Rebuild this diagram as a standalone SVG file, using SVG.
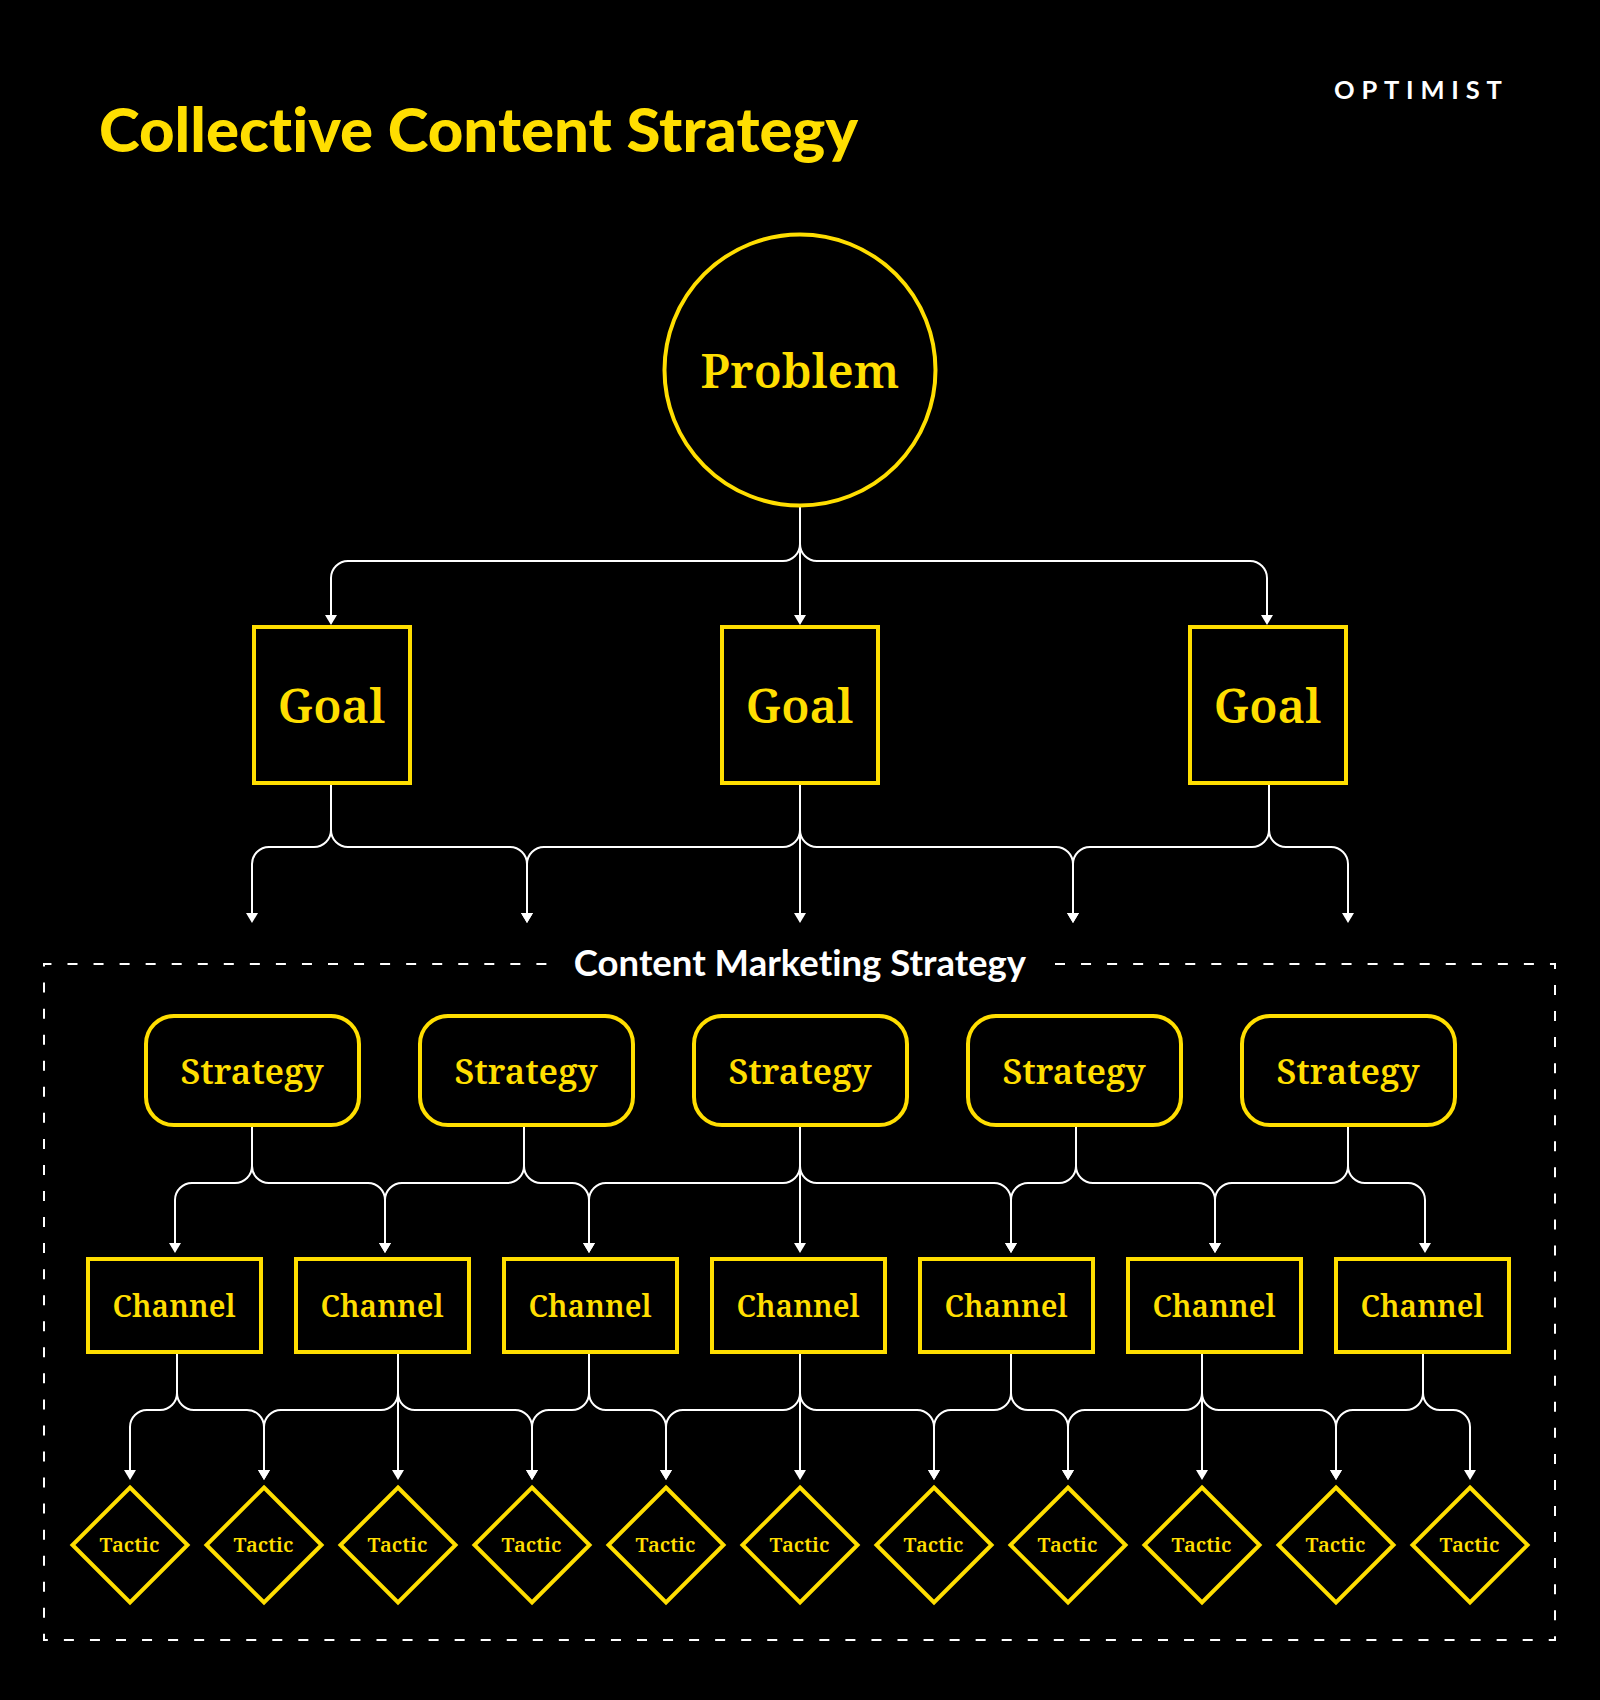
<svg xmlns="http://www.w3.org/2000/svg" width="1600" height="1700" viewBox="0 0 1600 1700">
<defs>
<style>
.n{fill:#000;stroke:#FFDE00;stroke-width:4}
.s{font-family:"Noto Serif","Droid Serif","DejaVu Serif Condensed",serif;font-weight:600;fill:#FFDE00;text-anchor:middle}
.c path{fill:none;stroke:#fff;stroke-width:2;marker-end:url(#a)}
.l{font-family:Lato,sans-serif;font-variant-ligatures:none}
</style>
<marker id="a" markerUnits="userSpaceOnUse" markerWidth="14" markerHeight="14" refX="7" refY="6" orient="auto"><path d="M0 0L10 6L0 12z" fill="#fff"/></marker>
</defs>
<rect width="1600" height="1700" fill="#000"/>
<text id="title" class="l" x="99" y="152" font-size="61.700" font-weight="900" fill="#FFDE00">Collective Content Strategy</text>
<text id="brand" class="l" x="1334" y="99" font-weight="700" font-size="25.500" letter-spacing="6.800" fill="#fff">OPTIMIST</text>
<path id="frame" d="M1055 964H1555V1640H44V964H547" fill="none" stroke="#fff" stroke-width="2" stroke-dasharray="10 16.050"/>
<text id="frame-label" class="l" x="800" y="976" font-size="36.500" font-weight="700" fill="#fff" text-anchor="middle">Content Marketing Strategy</text>
<g id="connectors" class="c">
<path d="M800 506V544A17 17 0 0 1 783 561H348A17 17 0 0 0 331 578V622"/>
<path d="M800 506V622"/>
<path d="M800 506V544A17 17 0 0 0 817 561H1250A17 17 0 0 1 1267 578V622"/>
<path d="M331 785V830A17 17 0 0 1 314 847H269A17 17 0 0 0 252 864V920"/>
<path d="M331 785V830A17 17 0 0 0 348 847H510A17 17 0 0 1 527 864V920"/>
<path d="M800 785V830A17 17 0 0 1 783 847H544A17 17 0 0 0 527 864V920"/>
<path d="M800 785V920"/>
<path d="M800 785V830A17 17 0 0 0 817 847H1056A17 17 0 0 1 1073 864V920"/>
<path d="M1269 785V830A17 17 0 0 1 1252 847H1090A17 17 0 0 0 1073 864V920"/>
<path d="M1269 785V830A17 17 0 0 0 1286 847H1331A17 17 0 0 1 1348 864V920"/>
<path d="M252 1127V1166A17 17 0 0 1 235 1183H192A17 17 0 0 0 175 1200V1250"/>
<path d="M252 1127V1166A17 17 0 0 0 269 1183H368A17 17 0 0 1 385 1200V1250"/>
<path d="M524 1127V1166A17 17 0 0 1 507 1183H402A17 17 0 0 0 385 1200V1250"/>
<path d="M524 1127V1166A17 17 0 0 0 541 1183H572A17 17 0 0 1 589 1200V1250"/>
<path d="M800 1127V1166A17 17 0 0 1 783 1183H606A17 17 0 0 0 589 1200V1250"/>
<path d="M800 1127V1250"/>
<path d="M800 1127V1166A17 17 0 0 0 817 1183H994A17 17 0 0 1 1011 1200V1250"/>
<path d="M1076 1127V1166A17 17 0 0 1 1059 1183H1028A17 17 0 0 0 1011 1200V1250"/>
<path d="M1076 1127V1166A17 17 0 0 0 1093 1183H1198A17 17 0 0 1 1215 1200V1250"/>
<path d="M1348 1127V1166A17 17 0 0 1 1331 1183H1232A17 17 0 0 0 1215 1200V1250"/>
<path d="M1348 1127V1166A17 17 0 0 0 1365 1183H1408A17 17 0 0 1 1425 1200V1250"/>
<path d="M177 1353V1393A17 17 0 0 1 160 1410H147A17 17 0 0 0 130 1427V1477"/>
<path d="M177 1353V1393A17 17 0 0 0 194 1410H247A17 17 0 0 1 264 1427V1477"/>
<path d="M398 1353V1393A17 17 0 0 1 381 1410H281A17 17 0 0 0 264 1427V1477"/>
<path d="M398 1353V1477"/>
<path d="M398 1353V1393A17 17 0 0 0 415 1410H515A17 17 0 0 1 532 1427V1477"/>
<path d="M589 1353V1393A17 17 0 0 1 572 1410H549A17 17 0 0 0 532 1427V1477"/>
<path d="M589 1353V1393A17 17 0 0 0 606 1410H649A17 17 0 0 1 666 1427V1477"/>
<path d="M800 1353V1393A17 17 0 0 1 783 1410H683A17 17 0 0 0 666 1427V1477"/>
<path d="M800 1353V1477"/>
<path d="M800 1353V1393A17 17 0 0 0 817 1410H917A17 17 0 0 1 934 1427V1477"/>
<path d="M1011 1353V1393A17 17 0 0 1 994 1410H951A17 17 0 0 0 934 1427V1477"/>
<path d="M1011 1353V1393A17 17 0 0 0 1028 1410H1051A17 17 0 0 1 1068 1427V1477"/>
<path d="M1202 1353V1393A17 17 0 0 1 1185 1410H1085A17 17 0 0 0 1068 1427V1477"/>
<path d="M1202 1353V1477"/>
<path d="M1202 1353V1393A17 17 0 0 0 1219 1410H1319A17 17 0 0 1 1336 1427V1477"/>
<path d="M1423 1353V1393A17 17 0 0 1 1406 1410H1353A17 17 0 0 0 1336 1427V1477"/>
<path d="M1423 1353V1393A17 17 0 0 0 1440 1410H1453A17 17 0 0 1 1470 1427V1477"/>
</g>
<g id="problem"><circle class="n" cx="800" cy="370" r="135.500"/><text class="s" x="800" y="388" font-size="47">Problem</text></g>
<g id="goal-1"><rect class="n" x="254" y="627" width="156" height="156"/><text class="s" x="331.500" y="723" font-size="47.300">Goal</text></g>
<g id="goal-2"><rect class="n" x="722" y="627" width="156" height="156"/><text class="s" x="799.500" y="723" font-size="47.300">Goal</text></g>
<g id="goal-3"><rect class="n" x="1190" y="627" width="156" height="156"/><text class="s" x="1267.500" y="723" font-size="47.300">Goal</text></g>
<g id="strategy-1"><rect class="n" x="146" y="1016" width="213" height="109" rx="28"/><text class="s" x="252" y="1084" font-size="35">Strategy</text></g>
<g id="strategy-2"><rect class="n" x="420" y="1016" width="213" height="109" rx="28"/><text class="s" x="526" y="1084" font-size="35">Strategy</text></g>
<g id="strategy-3"><rect class="n" x="694" y="1016" width="213" height="109" rx="28"/><text class="s" x="800" y="1084" font-size="35">Strategy</text></g>
<g id="strategy-4"><rect class="n" x="968" y="1016" width="213" height="109" rx="28"/><text class="s" x="1074" y="1084" font-size="35">Strategy</text></g>
<g id="strategy-5"><rect class="n" x="1242" y="1016" width="213" height="109" rx="28"/><text class="s" x="1348" y="1084" font-size="35">Strategy</text></g>
<g id="channel-1"><rect class="n" x="88" y="1259" width="173" height="93"/><text class="s" x="174" y="1316.500" font-size="30">Channel</text></g>
<g id="channel-2"><rect class="n" x="296" y="1259" width="173" height="93"/><text class="s" x="382" y="1316.500" font-size="30">Channel</text></g>
<g id="channel-3"><rect class="n" x="504" y="1259" width="173" height="93"/><text class="s" x="590" y="1316.500" font-size="30">Channel</text></g>
<g id="channel-4"><rect class="n" x="712" y="1259" width="173" height="93"/><text class="s" x="798" y="1316.500" font-size="30">Channel</text></g>
<g id="channel-5"><rect class="n" x="920" y="1259" width="173" height="93"/><text class="s" x="1006" y="1316.500" font-size="30">Channel</text></g>
<g id="channel-6"><rect class="n" x="1128" y="1259" width="173" height="93"/><text class="s" x="1214" y="1316.500" font-size="30">Channel</text></g>
<g id="channel-7"><rect class="n" x="1336" y="1259" width="173" height="93"/><text class="s" x="1422" y="1316.500" font-size="30">Channel</text></g>
<g id="tactic-1"><path class="n" d="M130 1487.500L187.500 1545L130 1602.500L72.500 1545z"/><text class="s" x="129.500" y="1552" font-size="20.300">Tactic</text></g>
<g id="tactic-2"><path class="n" d="M264 1487.500L321.500 1545L264 1602.500L206.500 1545z"/><text class="s" x="263.500" y="1552" font-size="20.300">Tactic</text></g>
<g id="tactic-3"><path class="n" d="M398 1487.500L455.500 1545L398 1602.500L340.500 1545z"/><text class="s" x="397.500" y="1552" font-size="20.300">Tactic</text></g>
<g id="tactic-4"><path class="n" d="M532 1487.500L589.500 1545L532 1602.500L474.500 1545z"/><text class="s" x="531.500" y="1552" font-size="20.300">Tactic</text></g>
<g id="tactic-5"><path class="n" d="M666 1487.500L723.500 1545L666 1602.500L608.500 1545z"/><text class="s" x="665.500" y="1552" font-size="20.300">Tactic</text></g>
<g id="tactic-6"><path class="n" d="M800 1487.500L857.500 1545L800 1602.500L742.500 1545z"/><text class="s" x="799.500" y="1552" font-size="20.300">Tactic</text></g>
<g id="tactic-7"><path class="n" d="M934 1487.500L991.500 1545L934 1602.500L876.500 1545z"/><text class="s" x="933.500" y="1552" font-size="20.300">Tactic</text></g>
<g id="tactic-8"><path class="n" d="M1068 1487.500L1125.500 1545L1068 1602.500L1010.500 1545z"/><text class="s" x="1067.500" y="1552" font-size="20.300">Tactic</text></g>
<g id="tactic-9"><path class="n" d="M1202 1487.500L1259.500 1545L1202 1602.500L1144.500 1545z"/><text class="s" x="1201.500" y="1552" font-size="20.300">Tactic</text></g>
<g id="tactic-10"><path class="n" d="M1336 1487.500L1393.500 1545L1336 1602.500L1278.500 1545z"/><text class="s" x="1335.500" y="1552" font-size="20.300">Tactic</text></g>
<g id="tactic-11"><path class="n" d="M1470 1487.500L1527.500 1545L1470 1602.500L1412.500 1545z"/><text class="s" x="1469.500" y="1552" font-size="20.300">Tactic</text></g>
</svg>
